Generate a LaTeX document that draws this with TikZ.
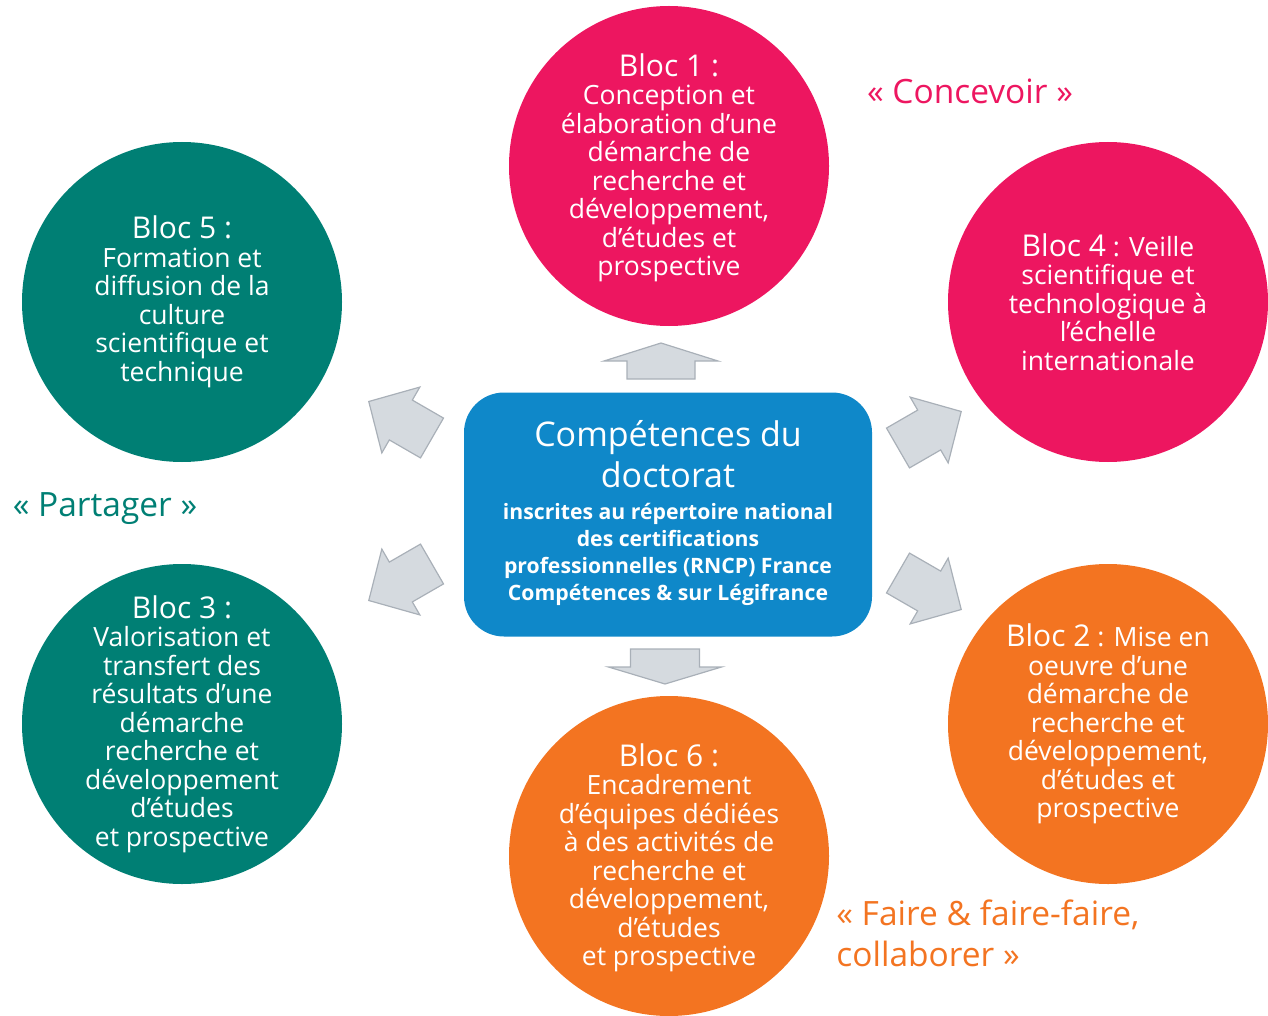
\documentclass[tikz,border=0pt]{standalone}
\usepackage{fontspec}
\setmainfont{Open Sans}
\usepackage{xcolor}
\usetikzlibrary{positioning}

\definecolor{blocpink}{HTML}{ED1660}
\definecolor{blocteal}{HTML}{007F74}
\definecolor{blocorange}{HTML}{F37421}
\definecolor{compblue}{HTML}{0F88C9}
\definecolor{arrowfill}{HTML}{D5DADF}
\definecolor{arrowline}{HTML}{A9B0B8}

\tikzset{
  bloc/.style={circle, minimum size=160pt, inner sep=0pt},
  bloctext/.style={text=white, align=center, font=\fontsize{13.25}{14.25}\selectfont},
  blocarrow/.style={fill=arrowfill, draw=arrowline, line width=0.6pt},
  motto/.style={font=\fontsize{16.75}{20.5}\selectfont},
}
\newcommand{\bloctitle}[1]{{\fontsize{15}{15}\selectfont #1}}

\begin{document}
\begin{tikzpicture}[x=0.5pt, y=-0.5pt]
  \useasboundingbox (0,0) rectangle (1268,1016);

  % les six blocs
  \node[bloc, fill=blocpink] (bloc1) at (669,166) {};
  \node[bloc, fill=blocorange] (bloc2) at (1108,724) {};
  \node[bloc, fill=blocteal] (bloc3) at (182,724) {};
  \node[bloc, fill=blocpink] (bloc4) at (1108,302) {};
  \node[bloc, fill=blocteal] (bloc5) at (182,302) {};
  \node[bloc, fill=blocorange] (bloc6) at (669,856) {};

  \node[bloctext] (txt1) at ([yshift=-1pt]bloc1) {\bloctitle{Bloc 1 :}\\ Conception et\\ élaboration d’une\\
    démarche de\\ recherche et\\ développement,\\ d’études et\\ prospective};
  \node[bloctext] (txt2) at (bloc2) {\bloctitle{Bloc 2} : Mise en\\ oeuvre d’une\\ démarche de\\
    recherche et\\ développement,\\ d’études et\\ prospective};
  \node[bloctext] (txt3) at (bloc3) {\bloctitle{Bloc 3 :}\\ Valorisation et\\ transfert des\\
    résultats d’une\\ démarche\\ recherche et\\ développement\\ d’études\\ et prospective};
  \node[bloctext] (txt4) at (bloc4) {\bloctitle{Bloc 4} : Veille\\ scientifique et\\
    technologique à\\ l’échelle\\ internationale};
  \node[bloctext] (txt5) at (bloc5) {\bloctitle{Bloc 5 :}\\ Formation et\\ diffusion de la\\
    culture\\ scientifique et\\ technique};
  \node[bloctext] (txt6) at ([yshift=-1pt]bloc6) {\bloctitle{Bloc 6 :}\\ Encadrement\\ d’équipes dédiées\\
    à des activités de\\ recherche et\\ développement,\\ d’études\\ et prospective};

  % le cadre central
  \node[fill=compblue, rounded corners=20pt, minimum width=204pt, minimum height=122pt,
        text=white, align=center, font=\fontsize{17}{20.5}\selectfont] (comp) at (668,514.5)
    {Compétences du\\ doctorat\\[-4.5pt]
     {\fontsize{10.6}{13.5}\selectfont\bfseries\begin{tabular}[t]{@{}c@{}}
       inscrites au répertoire national\\ des certifications\\
       professionnelles (RNCP) France\\ Compétences \& sur Légifrance\end{tabular}}};

  % les fleches
  \foreach \x/\y/\a/\sl/\sw/\hl/\hw in {661/379/90/18/34/18/57, 665/649/270/18/34.5/17/56.5,
      898/448/30/36/23/37/38, 898/573/-30/36/23/37/38,
      432/438/150/36/23/37/38, 432/564/210/36/23/37/38}
    \draw[blocarrow, shift={(\x,\y)}, rotate=\a]
      (0,-\sw) -- (\sl,-\sw) -- (\sl,-\hw) -- (\sl+\hl,0) -- (\sl,\hw) -- (\sl,\sw) -- (0,\sw) -- cycle;

  % les devises
  \node[motto, text=blocpink] (concevoir) at (970,91) {«~Concevoir~»};
  \node[motto, text=blocteal] (partager) at (105,509) {«~Partager~»};
  \node[motto, text=blocorange, align=left, anchor=west, inner sep=0pt] (faire) at (836,933.5)
    {«~Faire \& faire-faire,\\ collaborer~»};
\end{tikzpicture}
\end{document}
